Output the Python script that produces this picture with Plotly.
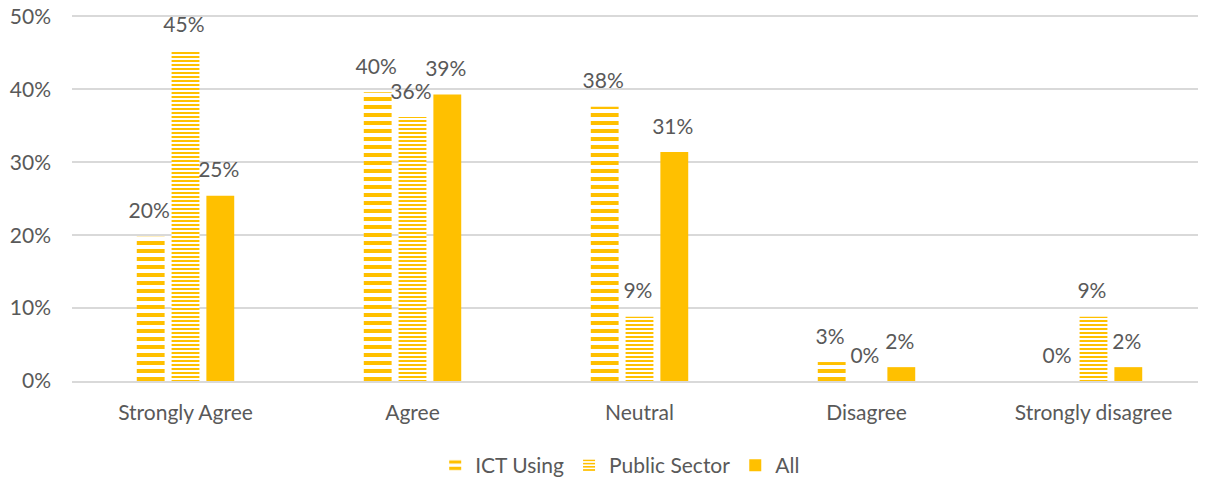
import plotly.graph_objects as go

categories = ["Strongly Agree", "Agree", "Neutral", "Disagree", "Strongly disagree"]
ict_using = [0.198, 0.396, 0.376, 0.026, 0.0]
public_sector = [0.453, 0.362, 0.088, 0.0, 0.088]
all_vals = [0.254, 0.393, 0.314, 0.019, 0.019]
y_ticks = [0, 0.1, 0.2, 0.3, 0.4, 0.5]

GOLD = "#FFC000"
TXT = "#595959"
FONT = "Lato, Liberation Sans, sans-serif"
LABEL_TPL = "%{y:.0%}<sub><span style='font-size:50px'>\u200a</span></sub>"

fig = go.Figure()
fig.add_trace(go.Bar(
    name="ICT Using", x=categories, y=ict_using,
    marker=dict(color="white", line=dict(width=0),
                pattern=dict(shape="-", fgcolor=GOLD, bgcolor="white", size=8, solidity=0.5, fillmode="replace")),
    texttemplate=LABEL_TPL, textposition="outside", cliponaxis=False,
    textfont=dict(size=21, color=TXT, family=FONT),
))
fig.add_trace(go.Bar(
    name="Public Sector", x=categories, y=public_sector,
    marker=dict(color="white", line=dict(width=0),
                pattern=dict(shape="-", fgcolor=GOLD, bgcolor="white", size=4, solidity=0.5, fillmode="replace")),
    texttemplate=LABEL_TPL, textposition="outside", cliponaxis=False,
    textfont=dict(size=21, color=TXT, family=FONT),
))
fig.add_trace(go.Bar(
    name="All", x=categories, y=all_vals,
    marker=dict(color=GOLD, line=dict(width=0)),
    texttemplate=LABEL_TPL, textposition="outside", cliponaxis=False,
    textfont=dict(size=21, color=TXT, family=FONT),
))

# page body has an 8px default margin, so the figure is drawn from (8, 8)
fig.update_layout(
    width=1206, height=484,
    margin=dict(l=64, r=7, t=6.5, b=111, autoexpand=False),
    paper_bgcolor="white", plot_bgcolor="white",
    barmode="group", bargap=0.54, bargroupgap=0.2,
    font=dict(family=FONT, color=TXT, size=21),
    showlegend=True,
    legend=dict(orientation="h", x=0.483, xanchor="center", y=-0.175, yanchor="top",
                font=dict(size=21, color=TXT), itemwidth=30),
    uniformtext=dict(minsize=21, mode="show"),
)
fig.update_xaxes(showgrid=False, showline=True, linecolor="#D9D9D9", linewidth=1.5,
                 tickfont=dict(size=21, color=TXT), ticks="", ticklabelstandoff=12,
                 automargin=False)
fig.update_yaxes(range=[0, 0.502], tickvals=y_ticks, tickformat=".0%", showgrid=True,
                 gridcolor="#D9D9D9", gridwidth=1.5, zeroline=False, showline=False,
                 tickfont=dict(size=21, color=TXT), ticks="", ticklabelstandoff=20,
                 ticklabeloverflow="allow", automargin=False)

fig.write_html("out.html")
